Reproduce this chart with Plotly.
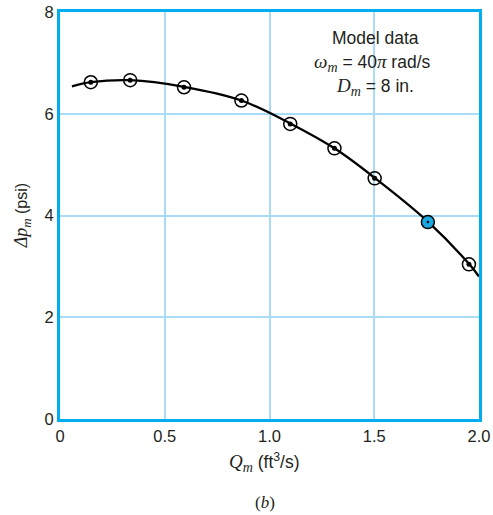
import plotly.graph_objects as go

# Measured data points (Q_m in ft^3/s, Δp_m in psi)
q_data = [0.147, 0.335, 0.592, 0.866, 1.099, 1.310, 1.502, 1.756, 1.952]
dp_data = [6.62, 6.66, 6.52, 6.26, 5.80, 5.32, 4.73, 3.87, 3.04]
highlight_index = 7

# Smooth fitted curve
q_curve = [0.057, 0.147, 0.335, 0.592, 0.866, 1.099, 1.310, 1.502, 1.756, 1.952, 2.0]
dp_curve = [6.54, 6.62, 6.66, 6.53, 6.26, 5.81, 5.32, 4.74, 3.88, 3.05, 2.80]

x_ticks = [0, 0.5, 1.0, 1.5, 2.0]
x_tick_labels = ["0", "0.5", "1.0", "1.5", "2.0"]
y_ticks = [0, 2, 4, 6, 8]

BLUE = "#00AEEF"
GRID = "#A9DDF5"
TXT = "#231F20"
SANS = "Liberation Sans, Arial, sans-serif"
SERIF = "Liberation Serif, Times New Roman, serif"


def it(s, size=19):
    return f"<span style='font-family:{SERIF};font-size:{size}px'><i>{s}</i></span>"


def sub(s, size=14):
    return f"<sub><span style='font-family:{SERIF};font-size:{size}px'><i>{s}</i></span></sub>"


fig = go.Figure()
fig.add_trace(go.Scatter(x=q_curve, y=dp_curve, mode="lines",
                         line=dict(color="black", width=2.3, shape="spline", smoothing=1.0),
                         hoverinfo="skip", cliponaxis=True))

open_x = [q for i, q in enumerate(q_data) if i != highlight_index]
open_y = [p for i, p in enumerate(dp_data) if i != highlight_index]
fig.add_trace(go.Scatter(x=open_x, y=open_y, mode="markers",
                         marker=dict(symbol="circle", size=13, color="rgba(255,255,255,0)",
                                     line=dict(color="black", width=1.5)), cliponaxis=False))
fig.add_trace(go.Scatter(x=open_x, y=open_y, mode="markers",
                         marker=dict(symbol="circle", size=5, color="black", line=dict(width=0)),
                         cliponaxis=False))
fig.add_trace(go.Scatter(x=[q_data[highlight_index]], y=[dp_data[highlight_index]], mode="markers",
                         marker=dict(symbol="circle", size=13, color="#1BA8E0",
                                     line=dict(color="black", width=1.5)), cliponaxis=False))
fig.add_trace(go.Scatter(x=[q_data[highlight_index]], y=[dp_data[highlight_index]], mode="markers",
                         marker=dict(symbol="circle", size=2.5, color="black", line=dict(width=0)),
                         cliponaxis=False))

fig.update_layout(
    width=493, height=515,
    margin=dict(l=60, r=14, t=12, b=96),
    paper_bgcolor="white", plot_bgcolor="white",
    showlegend=False,
    font=dict(family=SANS, size=16, color=TXT),
    xaxis=dict(range=[0, 2.0], tickvals=x_ticks, ticktext=x_tick_labels, showgrid=True, gridcolor=GRID,
               gridwidth=1.5, showline=True, linecolor=BLUE, linewidth=3, mirror=True, zeroline=False,
               ticks="", ticklen=0, automargin=False,
               tickfont=dict(family=SANS, size=16.5, color=TXT)),
    yaxis=dict(range=[0, 8], tickvals=y_ticks, showgrid=True, gridcolor=GRID, gridwidth=1.5,
               showline=True, linecolor=BLUE, linewidth=3, mirror=True, zeroline=False,
               ticks="", ticklen=0, automargin=False,
               tickfont=dict(family=SANS, size=16.5, color=TXT)),
)

ann = []
ann.append(dict(xref="paper", yref="paper", x=0.752, y=0.936, text="Model data", showarrow=False,
                font=dict(family=SANS, size=17.5, color=TXT), xanchor="center", yanchor="middle"))
ann.append(dict(xref="paper", yref="paper", x=0.745, y=0.875,
                text=f"{it('ω')}{sub('m')} = 40{it('π')} rad/s",
                showarrow=False, font=dict(family=SANS, size=17.5, color=TXT), xanchor="center", yanchor="middle"))
ann.append(dict(xref="paper", yref="paper", x=0.752, y=0.815,
                text=f"{it('D')}{sub('m')} = 8 in.",
                showarrow=False, font=dict(family=SANS, size=17.5, color=TXT), xanchor="center", yanchor="middle"))
ann.append(dict(xref="paper", yref="paper", x=0.489, y=-0.106,
                text=f"{it('Q')}{sub('m')} (ft<sup>3</sup>/s)",
                showarrow=False, font=dict(family=SANS, size=17.5, color=TXT), xanchor="center", yanchor="middle"))
ann.append(dict(xref="paper", yref="paper", x=0.489, y=-0.204,
                text="(<i>b</i>)",
                showarrow=False, font=dict(family=SERIF, size=17, color=TXT), xanchor="center", yanchor="middle"))
ann.append(dict(xref="paper", yref="paper", x=-0.091, y=0.5,
                text=f"{it('Δp', 18)}{sub('m', 13)} (psi)",
                showarrow=False, textangle=-90, font=dict(family=SANS, size=16, color=TXT),
                xanchor="center", yanchor="middle"))
fig.update_layout(annotations=ann)

# Remove the default page margin so the figure fills the window exactly.
fig.write_html("out.html",
               config={"displayModeBar": False},
               post_script="document.body.style.margin='0';document.body.style.overflow='hidden';")
